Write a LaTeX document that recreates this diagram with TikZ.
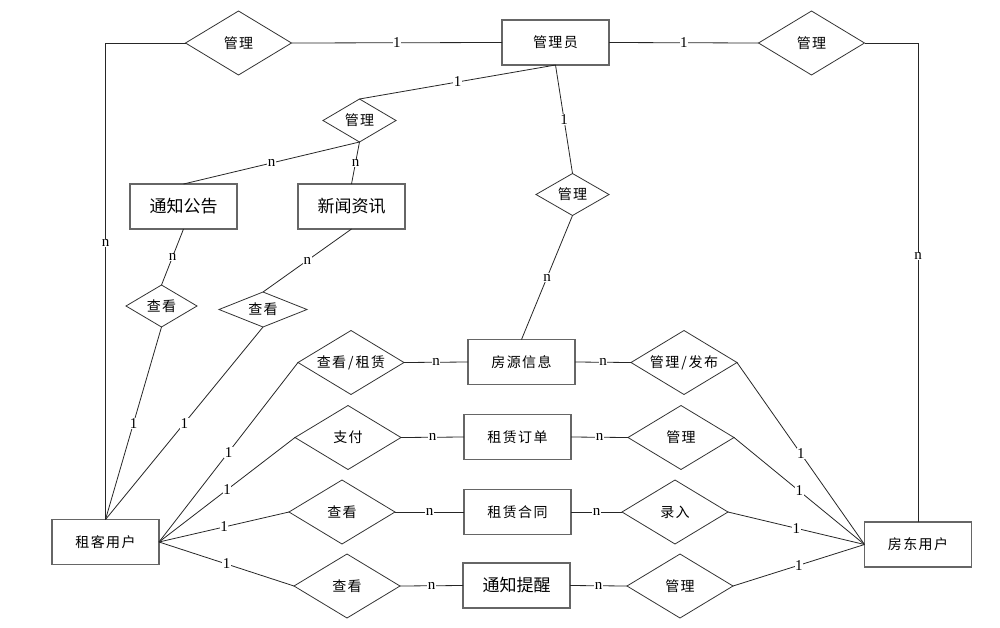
\documentclass[tikz,border=0pt]{standalone}
\usepackage{fontspec}
\setmainfont{Liberation Serif}
\newfontfamily\cjk{Noto Sans CJK SC}[LetterSpace=10]
\newfontfamily\cjkbig{Noto Sans CJK SC}
\usetikzlibrary{shapes.geometric}

\tikzset{
  ent/.style={draw=black!60, line width=1.2pt, minimum width=107pt, minimum height=45pt, inner sep=0pt, outer sep=0pt, font=\cjk\fontsize{14}{16}\selectfont},
  bigent/.style={ent, font=\cjkbig\fontsize{17}{19}\selectfont},
  rel/.style={diamond, draw=black!80, line width=0.8pt, inner sep=0pt, outer sep=0pt, aspect=1.6, minimum width=106pt, minimum height=64pt, font=\cjk\fontsize{14}{16}\selectfont},
  lbl/.style={fill=white, inner sep=0.5pt, font=\fontsize{15}{15}\selectfont},
}

\begin{document}
\begin{tikzpicture}[x=1pt, y=-1pt, line width=0.8pt, draw=black!85]
\useasboundingbox (0,0) rectangle (1000,627);

% entities
\node[ent] (gly) at (555.5,42.5) {管理员};
\node[bigent] (tzgg) at (183.5,206.5) {通知公告};
\node[bigent] (xwzx) at (351.5,206.5) {新闻资讯};
\node[ent] (fyxx) at (521.5,362) {房源信息};
\node[ent] (zldd) at (517.5,437) {租赁订单};
\node[ent] (zlht) at (517.5,512) {租赁合同};
\node[bigent] (tztx) at (516.5,585.5) {通知提醒};
\node[ent] (zkyh) at (105.5,542) {租客用户};
\node[ent] (fdyh) at (918,544.5) {房东用户};

% relations
\node[rel] (gl1) at (238.5,43) {管理};
\node[rel] (gl2) at (811.5,43) {管理};
\node[rel, minimum width=73pt, minimum height=43pt] (gl3) at (359.5,120.5) {管理};
\node[rel, minimum width=73pt, minimum height=42pt] (gl4) at (572.5,194.5) {管理};
\node[rel, minimum width=71pt, minimum height=42pt] (ck1) at (161.5,306) {查看};
\node[rel, minimum width=88pt, minimum height=35pt] (ck2) at (263,309.5) {查看};
\node[rel] (ckzl) at (351,362.5) {查看\hspace{2pt}/\hspace{2pt}租赁};
\node[rel] (zf) at (348,437.5) {支付};
\node[rel] (ck3) at (342,512) {查看};
\node[rel] (ck4) at (347,586) {查看};
\node[rel] (glfb) at (684,362.5) {管理\hspace{2pt}/\hspace{2pt}发布};
\node[rel] (gl5) at (681,437.5) {管理};
\node[rel] (lr) at (675,512) {录入};
\node[rel] (gl6) at (680,586) {管理};

% connectors
\draw (zkyh.north) -- node[lbl, pos=0.58] {n} (zkyh.north |- gl1.west) -- (gl1.west);
\draw (gl1.east) -- node[lbl] {1} (gly.west);
\draw (gly.east) -- node[lbl] {1} (gl2.west);
\draw (fdyh.north) -- node[lbl, pos=0.555] {n} (fdyh.north |- gl2.east) -- (gl2.east);
\draw (gly.south) -- node[lbl] {1} (gl3.north);
\draw (gly.south) -- node[lbl] {1} (gl4.north);
\draw (gl3.south) -- node[lbl] {n} (tzgg.north);
\draw (gl3.south) -- node[lbl] {n} (xwzx.north);
\draw (tzgg.south) -- node[lbl] {n} (ck1.north);
\draw (xwzx.south) -- node[lbl] {n} (ck2.north);
\draw (ck1.south) -- node[lbl] {1} (zkyh.north);
\draw (ck2.south) -- node[lbl] {1} (zkyh.north);
\draw (gl4.south) -- node[lbl] {n} (fyxx.north);

\foreach \l/\e/\r in {ckzl/fyxx/glfb, zf/zldd/gl5, ck3/zlht/lr, ck4/tztx/gl6} {
  \draw (zkyh.east) -- node[lbl] {1} (\l.west);
  \draw (\l.east) -- node[lbl] {n} (\e.west);
  \draw (\e.east) -- node[lbl] {n} (\r.west);
  \draw (\r.east) -- node[lbl] {1} (fdyh.west);
}

\end{tikzpicture}
\end{document}
